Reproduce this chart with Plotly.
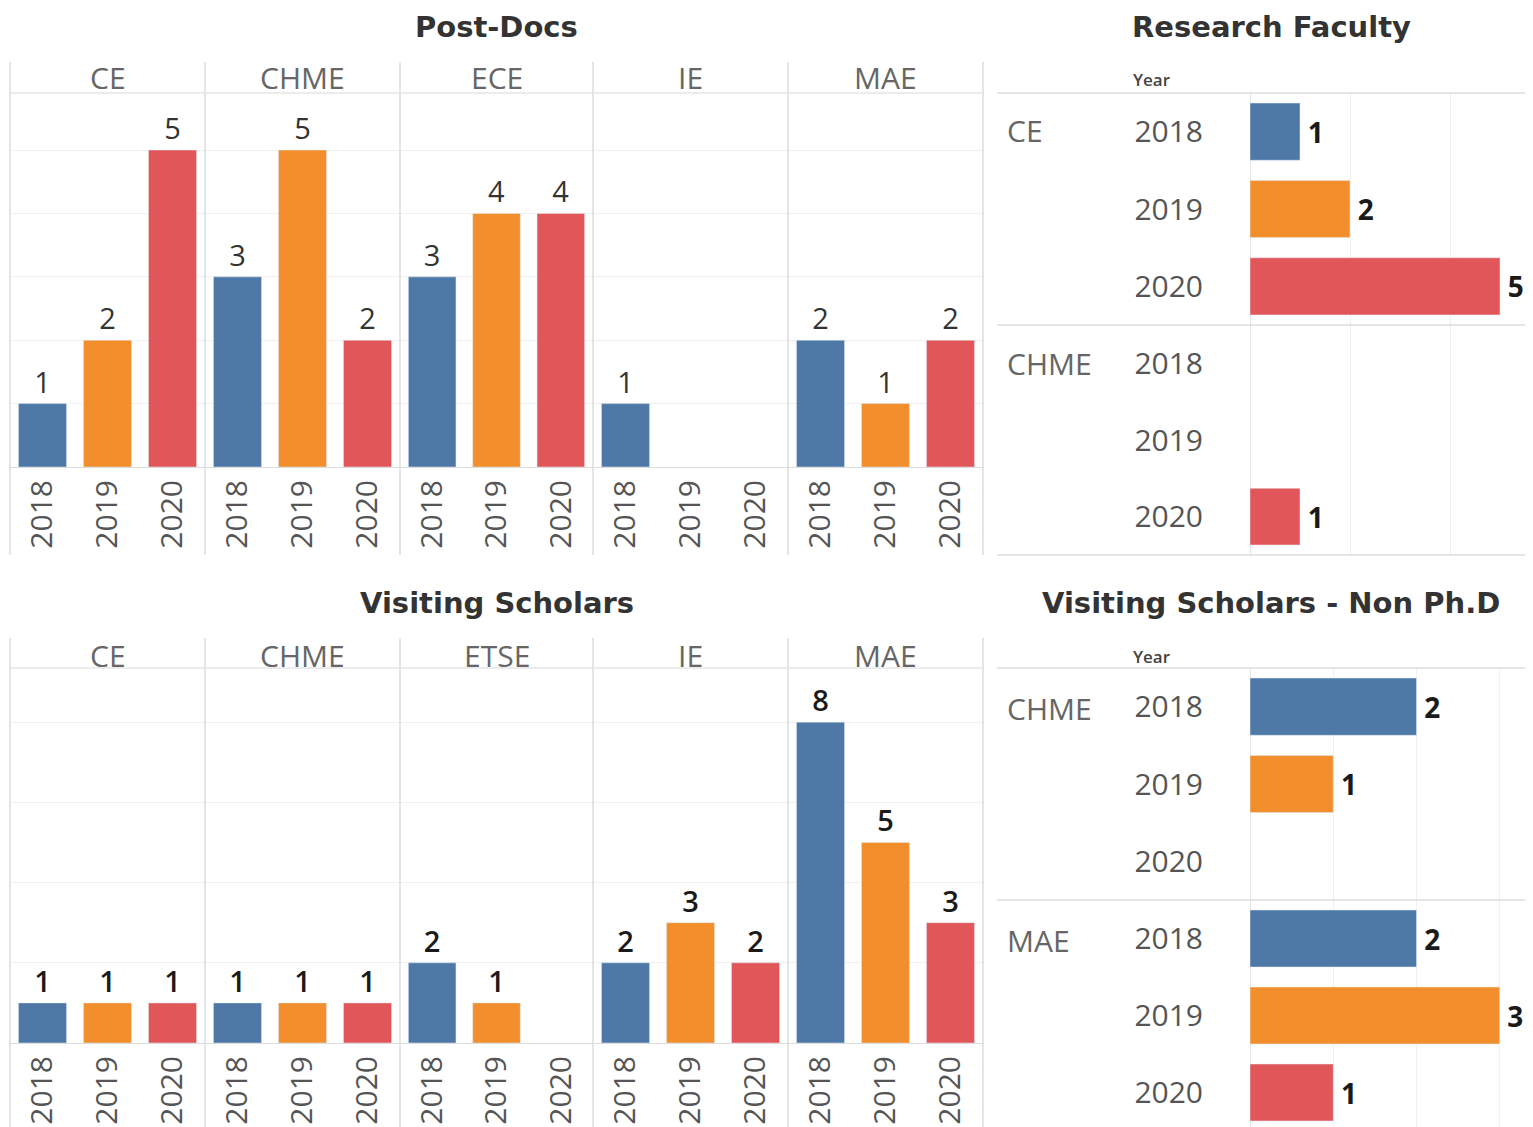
import plotly.graph_objects as go

# page has an 8px body margin, so the figure is shifted by OFF
OFF = 8
W, H = 1533 - OFF, 1127 - OFF

# ---------------- data
years = ["2018", "2019", "2020"]
year_colors = ["#4e79a7", "#f28e2b", "#e15759"]

# Post-Docs (by dept, 2018..2020)
postdoc_depts = ["CE", "CHME", "ECE", "IE", "MAE"]
postdoc_ce = [1, 2, 5]
postdoc_chme = [3, 5, 2]
postdoc_ece = [3, 4, 4]
postdoc_ie = [1, None, None]
postdoc_mae = [2, 1, 2]

# Visiting Scholars
visiting_depts = ["CE", "CHME", "ETSE", "IE", "MAE"]
visiting_ce = [1, 1, 1]
visiting_chme = [1, 1, 1]
visiting_etse = [2, 1, None]
visiting_ie = [2, 3, 2]
visiting_mae = [8, 5, 3]

# Research Faculty
faculty_depts = ["CE", "CHME"]
faculty_ce = [1, 2, 5]
faculty_chme = [None, None, 1]

# Visiting Scholars - Non Ph.D
nonphd_depts = ["CHME", "MAE"]
nonphd_chme = [2, 1, None]
nonphd_mae = [2, 3, 1]

FONT = "Open Sans"
TITLE_FONT = "DejaVu Sans"
GRID = "#f0f0f0"
SEP = "#dcdcdc"
LBL = 30


def fx(x):
    return (x - OFF) / W


def fy(y):
    return 1 - (y - OFF) / H


fig = go.Figure()
axis_count = [0]


def new_axes():
    axis_count[0] += 1
    n = axis_count[0]
    return "" if n == 1 else str(n)


def labels(vals, pad=""):
    return ["" if v is None else pad + str(v) for v in vals]


# ---------------- vertical bar panels (one per department)
def column_panel(vals, x0, x1, y0, y1, ymax, dtick, text_font):
    s = new_axes()
    fig.add_trace(go.Bar(
        x=years, y=vals, marker_color=year_colors,
        text=labels(vals), textposition="outside", cliponaxis=False,
        constraintext="none", textfont=text_font,
        xaxis="x" + s, yaxis="y" + s, showlegend=False, hoverinfo="skip",
    ))
    fig.layout["xaxis" + s] = dict(
        domain=[fx(x0), fx(x1)], anchor="y" + s, type="category",
        categoryorder="array", categoryarray=years, tickangle=-90,
        tickfont=dict(family=FONT, size=LBL, color="#555"),
        showline=True, linecolor=SEP, showgrid=False, ticks="",
        fixedrange=True,
    )
    fig.layout["yaxis" + s] = dict(
        domain=[fy(y1), fy(y0)], anchor="x" + s, range=[0, ymax],
        dtick=dtick, showticklabels=False, showgrid=True, gridcolor=GRID,
        zeroline=False, fixedrange=True,
    )


# ---------------- horizontal bar panels (one per department row group)
def row_panel(vals, y0, y1, xmax, dtick, yrange):
    s = new_axes()
    fig.add_trace(go.Bar(
        y=years, x=vals, orientation="h", marker_color=year_colors,
        text=labels(vals, "\u2009"), textposition="outside", cliponaxis=False,
        constraintext="none",
        textfont=dict(family=FONT, size=28, color="#1a1a1a", weight="bold"),
        xaxis="x" + s, yaxis="y" + s, showlegend=False, hoverinfo="skip",
    ))
    fig.layout["xaxis" + s] = dict(
        domain=[fx(1250), 1], anchor="y" + s, range=[0, xmax], dtick=dtick,
        showticklabels=False, showgrid=True, gridcolor=GRID,
        zeroline=True, zerolinecolor="#e6e6e6", zerolinewidth=1,
        fixedrange=True,
    )
    fig.layout["yaxis" + s] = dict(
        domain=[fy(y1), fy(y0)], anchor="x" + s, type="category",
        categoryorder="array", categoryarray=years, range=yrange,
        tickfont=dict(family=FONT, size=LBL, color="#555"),
        ticklabelstandoff=46, showgrid=False, ticks="", fixedrange=True,
    )


col_edges = [10, 205, 400, 593, 788, 983]
bar_gap = 0.26

# Post-Docs
postdoc_vals = [postdoc_ce, postdoc_chme, postdoc_ece, postdoc_ie, postdoc_mae]
for i, vals in enumerate(postdoc_vals):
    column_panel(vals, col_edges[i], col_edges[i + 1], 93, 467, 5.9, 1,
                 dict(family=FONT, size=29, color="#333"))

# Visiting Scholars
visiting_vals = [visiting_ce, visiting_chme, visiting_etse, visiting_ie, visiting_mae]
for i, vals in enumerate(visiting_vals):
    column_panel(vals, col_edges[i], col_edges[i + 1], 668, 1043, 9.35, 2,
                 dict(family=FONT, size=29, color="#1a1a1a", weight=600))

# Research Faculty
row_panel(faculty_ce, 93, 325, 5.66, 2, [2.5, -0.5])
row_panel(faculty_chme, 325, 555, 5.66, 2, [2.5, -0.5])

# Visiting Scholars - Non Ph.D
row_panel(nonphd_chme, 668, 900, 3.4, 1, [2.5, -0.5])
row_panel(nonphd_mae, 900, 1127, 3.4, 1, [2.448, -0.5])

fig.update_layout(bargap=bar_gap)

# ---------------- text
ann = []
title_font = dict(family=TITLE_FONT, size=29, color="#333", weight="bold")
for txt, x, y in [("Post-Docs", 497, 27), ("Research Faculty", 1271, 27),
                  ("Visiting Scholars", 497, 603),
                  ("Visiting Scholars - Non Ph.D", 1271, 603)]:
    ann.append(dict(text=txt, x=fx(x), y=fy(y), xref="paper", yref="paper",
                    showarrow=False, xanchor="center", yanchor="middle",
                    font=title_font))

head_font = dict(family=FONT, size=LBL, color="#666")
for depts, yh in [(postdoc_depts, 78), (visiting_depts, 655)]:
    for i, d in enumerate(depts):
        cx = (col_edges[i] + col_edges[i + 1]) / 2
        ann.append(dict(text=d, x=fx(cx), y=fy(yh), xref="paper", yref="paper",
                        showarrow=False, xanchor="center", yanchor="middle",
                        font=head_font))

for depts, rows in [(faculty_depts, [131, 363]), (nonphd_depts, [708, 940])]:
    for d, yr in zip(depts, rows):
        ann.append(dict(text=d, x=fx(1005), y=fy(yr), xref="paper", yref="paper",
                        showarrow=False, xanchor="left", yanchor="middle",
                        font=head_font))

for yh in [79, 656]:
    ann.append(dict(text="Year", x=fx(1131), y=fy(yh), xref="paper", yref="paper",
                    showarrow=False, xanchor="left", yanchor="middle",
                    font=dict(family=FONT, size=17, color="#444", weight=600)))

# ---------------- separator lines
shapes = []


def hline(y, x0, x1, color=SEP):
    shapes.append(dict(type="line", xref="paper", yref="paper",
                       x0=fx(x0), x1=fx(x1), y0=fy(y), y1=fy(y),
                       line=dict(color=color, width=1.5)))


def vline(x, y0, y1):
    shapes.append(dict(type="line", xref="paper", yref="paper",
                       x0=fx(x), x1=fx(x), y0=fy(y0), y1=fy(y1),
                       line=dict(color=SEP, width=1.5)))


for x in col_edges:
    vline(x, 62, 555)
    vline(x, 638, 1127)
hline(93, 10, 983, "#e6e6e6")
hline(668, 10, 983, "#e6e6e6")
for y in [93, 325, 555]:
    hline(y, 997, 1533)
for y in [668, 900]:
    hline(y, 997, 1533)

fig.update_layout(
    width=W, height=H, autosize=False,
    margin=dict(l=0, r=0, t=0, b=0),
    plot_bgcolor="white", paper_bgcolor="white",
    annotations=ann, shapes=shapes,
    font=dict(family=FONT),
)

fig.write_html("out.html")
